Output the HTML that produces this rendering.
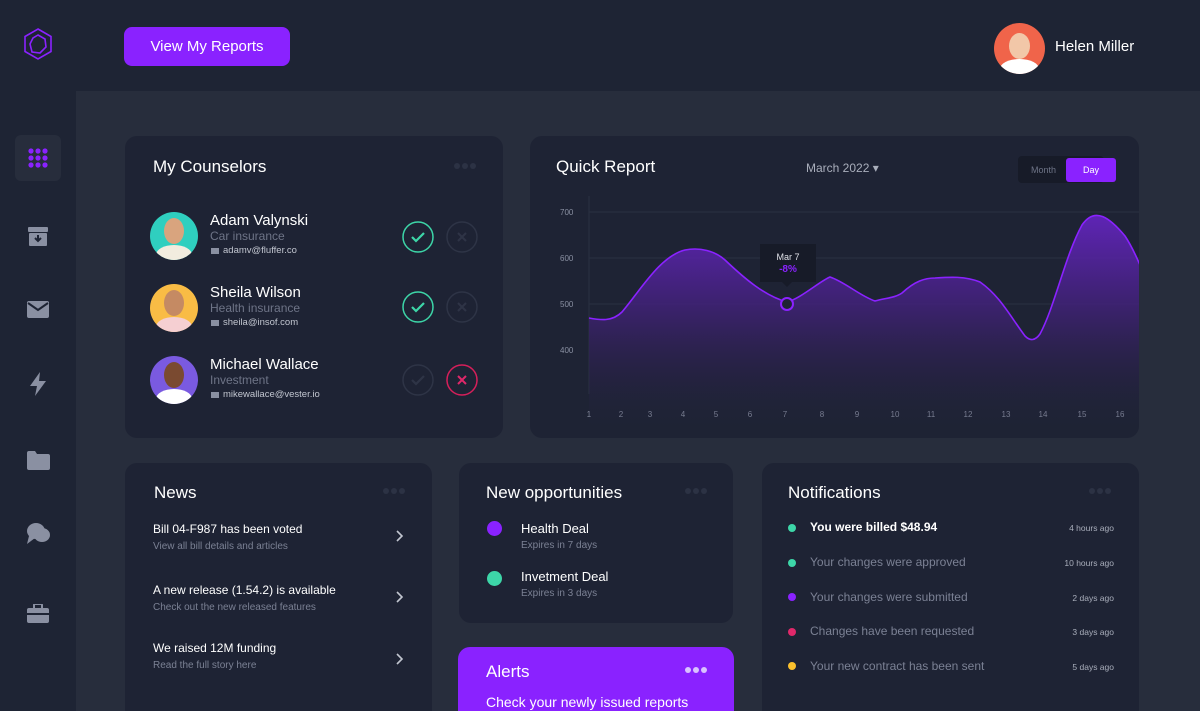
<!DOCTYPE html>
<html style="overflow:hidden;width:1200px;height:711px"><head><meta charset="utf-8"><style>
*{margin:0;padding:0;box-sizing:border-box}
body{width:1200px;height:711px;overflow:hidden;background:#1e2434;font-family:"Liberation Sans",sans-serif;position:relative;color:#fff}
.a{position:absolute}
.main{left:76px;top:91px;width:1124px;height:620px;background:#272d3c}
.card{position:absolute;background:#1e2334;border-radius:12px}
.t{font-size:17px;color:#fff}
.dots{position:absolute;display:flex;gap:2px}
.dots i{width:6px;height:6px;border-radius:50%;background:#2c3244;display:block}
.sm{font-size:11px;color:#7b8194}
</style></head><body>
<div class="a main"></div>
<svg class="a" style="left:22px;top:27px" width="32" height="34" viewBox="0 0 32 34"><polygon points="16,2 29,9.5 29,24.5 16,32 3,24.5 3,9.5" fill="none" stroke="#8a22ff" stroke-width="1.6"/><polygon points="16,8 23,12 24,20 18,26 10,25 8,17 11,11" fill="none" stroke="#8a22ff" stroke-width="1.6"/></svg>
<div class="a" style="left:124px;top:27px;width:166px;height:39px;background:#8a22ff;border-radius:8px;font-size:15px;line-height:40px;text-align:center">View My Reports</div>
<div class="a" style="left:994px;top:23px;width:51px;height:51px;border-radius:50%;background:#f0644a;overflow:hidden"><div class="a" style="left:15px;top:10px;width:21px;height:26px;border-radius:50%;background:#f2c7a8"></div><div class="a" style="left:6px;top:36px;width:39px;height:20px;border-radius:50%;background:#fff"></div></div>
<div class="a" style="left:1055px;top:38px;font-size:15px">Helen Miller</div>
<div class="a" style="left:15px;top:135px;width:46px;height:46px;border-radius:6px;background:#272d3c"></div>
<svg class="a" style="left:28px;top:148px" width="20" height="20"><g fill="#8a22ff"><circle cx="3" cy="3" r="2.6"/><circle cx="10" cy="3" r="2.6"/><circle cx="17" cy="3" r="2.6"/><circle cx="3" cy="10" r="2.6"/><circle cx="10" cy="10" r="2.6"/><circle cx="17" cy="10" r="2.6"/><circle cx="3" cy="17" r="2.6"/><circle cx="10" cy="17" r="2.6"/><circle cx="17" cy="17" r="2.6"/></g></svg>
<svg class="a" style="left:27px;top:226px" width="22" height="22" fill="#8a90a2"><rect x="1" y="1" width="20" height="5" rx="1"/><rect x="2" y="7" width="18" height="13" rx="1"/><path d="M11 9v6M8 12l3 3 3-3" stroke="#1e2434" stroke-width="2" fill="none"/></svg>
<svg class="a" style="left:27px;top:301px" width="22" height="18" fill="#8a90a2"><rect x="0" y="0" width="22" height="17" rx="2"/><path d="M1 2l10 7 10-7" stroke="#1e2434" stroke-width="2" fill="none"/></svg>
<svg class="a" style="left:29px;top:372px" width="18" height="24" fill="#8a90a2"><polygon points="11,0 1,14 8,14 6,24 17,9 10,9"/></svg>
<svg class="a" style="left:27px;top:451px" width="23" height="19" fill="#8a90a2"><path d="M0 2a2 2 0 012-2h6l2 3h11a2 2 0 012 2v12a2 2 0 01-2 2H2a2 2 0 01-2-2z"/></svg>
<svg class="a" style="left:27px;top:522px" width="23" height="22" fill="#8a90a2"><ellipse cx="9" cy="9" rx="9" ry="8"/><ellipse cx="15" cy="13" rx="8" ry="7"/><polygon points="2,14 0,22 8,16"/></svg>
<svg class="a" style="left:27px;top:604px" width="22" height="19" fill="#8a90a2"><rect x="0" y="4" width="22" height="15" rx="2"/><rect x="7" y="0" width="8" height="5" rx="1" fill="none" stroke="#8a90a2" stroke-width="2"/><rect x="0" y="9" width="22" height="2" fill="#1e2434"/></svg>

<div class="card" style="left:125px;top:136px;width:378px;height:302px">
<div class="a t" style="left:28px;top:21px">My Counselors</div>
<div class="dots" style="left:329px;top:27px"><i></i><i></i><i></i></div>
</div>
<div class="a" style="left:150px;top:212px;width:48px;height:48px;border-radius:50%;background:#2fcfbf;overflow:hidden"><div class="a" style="left:14px;top:6px;width:20px;height:26px;border-radius:50%;background:#d9a47e"></div><div class="a" style="left:6px;top:33px;width:36px;height:20px;border-radius:50%;background:#f2ecdf"></div></div>
<div class="a" style="left:150px;top:284px;width:48px;height:48px;border-radius:50%;background:#f9bc45;overflow:hidden"><div class="a" style="left:14px;top:6px;width:20px;height:26px;border-radius:50%;background:#c58a63"></div><div class="a" style="left:6px;top:33px;width:36px;height:20px;border-radius:50%;background:#f5cfd2"></div></div>
<div class="a" style="left:150px;top:356px;width:48px;height:48px;border-radius:50%;background:#7a5ae0;overflow:hidden"><div class="a" style="left:14px;top:6px;width:20px;height:26px;border-radius:50%;background:#7a4a30"></div><div class="a" style="left:6px;top:33px;width:36px;height:20px;border-radius:50%;background:#fff"></div></div>
<div class="a" style="left:210px;top:212px;font-size:15px">Adam Valynski</div>
<div class="a" style="left:210px;top:229px;font-size:12px;color:#6e7487">Car insurance</div>
<div class="a sm" style="left:223px;top:245px;font-size:9.5px;color:#c2c6d0">adamv@fluffer.co</div>
<div class="a" style="left:210px;top:284px;font-size:15px">Sheila Wilson</div>
<div class="a" style="left:210px;top:301px;font-size:12px;color:#6e7487">Health insurance</div>
<div class="a sm" style="left:223px;top:317px;font-size:9.5px;color:#c2c6d0">sheila@insof.com</div>
<div class="a" style="left:210px;top:356px;font-size:15px">Michael Wallace</div>
<div class="a" style="left:210px;top:373px;font-size:12px;color:#6e7487">Investment</div>
<div class="a sm" style="left:223px;top:389px;font-size:9.5px;color:#c2c6d0">mikewallace@vester.io</div>
<div class="a" style="left:211px;top:248px;width:8px;height:6px;background:#8a90a2"></div>
<div class="a" style="left:211px;top:320px;width:8px;height:6px;background:#8a90a2"></div>
<div class="a" style="left:211px;top:392px;width:8px;height:6px;background:#8a90a2"></div>
<svg class="a" style="left:400px;top:219px" width="80" height="180" fill="none" stroke-width="1.5">
<circle cx="18" cy="18" r="15" stroke="#3dd6a8"/><path d="M12 18l4 4 8-8" stroke="#3dd6a8" stroke-width="2.2"/>
<circle cx="62" cy="18" r="15" stroke="#2e3446"/><path d="M58 14l8 8M66 14l-8 8" stroke="#2e3446" stroke-width="2"/>
<circle cx="18" cy="88" r="15" stroke="#3dd6a8"/><path d="M12 88l4 4 8-8" stroke="#3dd6a8" stroke-width="2.2"/>
<circle cx="62" cy="88" r="15" stroke="#2e3446"/><path d="M58 84l8 8M66 84l-8 8" stroke="#2e3446" stroke-width="2"/>
<circle cx="18" cy="161" r="15" stroke="#2e3446"/><path d="M12 161l4 4 8-8" stroke="#2e3446" stroke-width="2.2"/>
<circle cx="62" cy="161" r="15" stroke="#d61f5a"/><path d="M58 157l8 8M66 157l-8 8" stroke="#e0286a" stroke-width="2"/>
</svg>

<div class="card" style="left:530px;top:136px;width:609px;height:302px;overflow:hidden">
<div class="a t" style="left:26px;top:21px">Quick Report</div>
<div class="a" style="left:276px;top:25px;font-size:12px;color:#a9aebb">March 2022 ▾</div>
<div class="a" style="left:488px;top:20px;width:86px;height:27px;border-radius:4px;background:#171b28"></div>
<div class="a" style="left:501px;top:29px;font-size:9px;color:#6e7487">Month</div>
<div class="a" style="left:536px;top:22px;width:50px;height:24px;border-radius:3px;background:#8a22ff;font-size:9px;text-align:center;line-height:24px">Day</div>
<svg class="a" style="left:0;top:0" width="609" height="302">
<defs><linearGradient id="g" x1="0" y1="0" x2="0" y2="1"><stop offset="0" stop-color="#6a24cc" stop-opacity=".85"/><stop offset="0.55" stop-color="#34215e" stop-opacity=".8"/><stop offset="1" stop-color="#1e2334" stop-opacity="0"/></linearGradient></defs>
<g stroke="#2a3042" stroke-width="1"><line x1="59" y1="76" x2="609" y2="76"/><line x1="59" y1="122" x2="609" y2="122"/><line x1="59" y1="168" x2="609" y2="168"/><line x1="59" y1="60" x2="59" y2="258"/></g>
<g font-size="8" fill="#8a90a2"><text x="30" y="79">700</text><text x="30" y="125">600</text><text x="30" y="171">500</text><text x="30" y="217">400</text></g>
<g font-size="8" fill="#8a90a2" text-anchor="middle"><text x="59" y="281">1</text><text x="91" y="281">2</text><text x="120" y="281">3</text><text x="153" y="281">4</text><text x="186" y="281">5</text><text x="220" y="281">6</text><text x="255" y="281">7</text><text x="292" y="281">8</text><text x="327" y="281">9</text><text x="365" y="281">10</text><text x="401" y="281">11</text><text x="438" y="281">12</text><text x="476" y="281">13</text><text x="513" y="281">14</text><text x="552" y="281">15</text><text x="590" y="281">16</text></g>
<path d="M59 182 C70 184,82 186,92 176 C110 155,130 120,155 114 C170 111,185 115,195 124 C215 143,235 160,257 166 C270 163,290 145,300 141 C315 146,330 160,345 165 C355 162,365 162,372 157 C385 145,395 142,405 142 C420 141,435 140,450 146 C470 160,480 180,495 200 C500 205,505 205,510 198 C525 170,535 120,552 89 C565 70,580 82,595 100 C605 115,609 128,615 140 L615 302 L59 302 Z" fill="url(#g)"/>
<path d="M59 182 C70 184,82 186,92 176 C110 155,130 120,155 114 C170 111,185 115,195 124 C215 143,235 160,257 166 C270 163,290 145,300 141 C315 146,330 160,345 165 C355 162,365 162,372 157 C385 145,395 142,405 142 C420 141,435 140,450 146 C470 160,480 180,495 200 C500 205,505 205,510 198 C525 170,535 120,552 89 C565 70,580 82,595 100 C605 115,609 128,615 140" fill="none" stroke="#8a22ff" stroke-width="1.6"/>
<circle cx="257" cy="168" r="6" fill="#1e2334" stroke="#8a22ff" stroke-width="2"/>
<rect x="230" y="108" width="56" height="38" fill="#171b28"/><polygon points="252,146 262,146 257,151" fill="#171b28"/>
<text x="258" y="124" font-size="9" fill="#e0e2e8" text-anchor="middle">Mar 7</text>
<text x="258" y="136" font-size="10" font-weight="bold" fill="#8a22ff" text-anchor="middle">-8%</text>
</svg>
</div>

<div class="card" style="left:125px;top:463px;width:307px;height:260px">
<div class="a t" style="left:29px;top:20px">News</div>
<div class="dots" style="left:258px;top:25px"><i></i><i></i><i></i></div>
<div class="a" style="left:28px;top:59px;font-size:12px">Bill 04-F987 has been voted</div>
<div class="a sm" style="left:28px;top:78px;font-size:10px">View all bill details and articles</div>
<div class="a" style="left:28px;top:120px;font-size:12px">A new release (1.54.2) is available</div>
<div class="a sm" style="left:28px;top:139px;font-size:10px">Check out the new released features</div>
<div class="a" style="left:28px;top:178px;font-size:12px">We raised 12M funding</div>
<div class="a sm" style="left:28px;top:197px;font-size:10px">Read the full story here</div>
<svg class="a" style="left:270px;top:66px" width="10" height="140" fill="none" stroke="#c2c6d0" stroke-width="1.6"><path d="M2 2l5 5-5 5M2 63l5 5-5 5M2 125l5 5-5 5"/></svg>
</div>

<div class="card" style="left:459px;top:463px;width:274px;height:160px">
<div class="a t" style="left:27px;top:20px">New opportunities</div>
<div class="dots" style="left:226px;top:25px"><i></i><i></i><i></i></div>
<div class="a" style="left:28px;top:58px;width:15px;height:15px;border-radius:50%;background:#8a22ff"></div>
<div class="a" style="left:28px;top:108px;width:15px;height:15px;border-radius:50%;background:#3dd6a8"></div>
<div class="a" style="left:62px;top:58px;font-size:13px">Health Deal</div>
<div class="a sm" style="left:62px;top:77px;font-size:10px">Expires in 7 days</div>
<div class="a" style="left:62px;top:106px;font-size:13px">Invetment Deal</div>
<div class="a sm" style="left:62px;top:125px;font-size:10px">Expires in 3 days</div>
</div>

<div class="card" style="left:458px;top:647px;width:276px;height:80px;background:#8a22ff">
<div class="a t" style="left:28px;top:15px">Alerts</div>
<div class="dots" style="left:227px;top:20px"><i style="background:#d9c2ff"></i><i style="background:#d9c2ff"></i><i style="background:#d9c2ff"></i></div>
<div class="a" style="left:28px;top:47px;font-size:14px">Check your newly issued reports</div>
</div>

<div class="card" style="left:762px;top:463px;width:377px;height:260px">
<div class="a t" style="left:26px;top:20px">Notifications</div>
<div class="dots" style="left:327px;top:25px"><i></i><i></i><i></i></div>
<div class="a" style="left:26px;top:61px;width:8px;height:8px;border-radius:50%;background:#3dd6a8"></div>
<div class="a" style="left:26px;top:96px;width:8px;height:8px;border-radius:50%;background:#3dd6a8"></div>
<div class="a" style="left:26px;top:130px;width:8px;height:8px;border-radius:50%;background:#8a22ff"></div>
<div class="a" style="left:26px;top:165px;width:8px;height:8px;border-radius:50%;background:#e0286a"></div>
<div class="a" style="left:26px;top:199px;width:8px;height:8px;border-radius:50%;background:#fbc02d"></div>
<div class="a" style="left:48px;top:57px;font-size:12px;font-weight:bold">You were billed $48.94</div>
<div class="a" style="left:48px;top:92px;font-size:12px;color:#7b8194">Your changes were approved</div>
<div class="a" style="left:48px;top:127px;font-size:12px;color:#7b8194">Your changes were submitted</div>
<div class="a" style="left:48px;top:161px;font-size:12px;color:#7b8194">Changes have been requested</div>
<div class="a" style="left:48px;top:196px;font-size:12px;color:#7b8194">Your new contract has been sent</div>
<div class="a" style="right:25px;top:60px;font-size:8.5px;color:#a9aebb">4 hours ago</div>
<div class="a" style="right:25px;top:95px;font-size:8.5px;color:#a9aebb">10 hours ago</div>
<div class="a" style="right:25px;top:130px;font-size:8.5px;color:#a9aebb">2 days ago</div>
<div class="a" style="right:25px;top:164px;font-size:8.5px;color:#a9aebb">3 days ago</div>
<div class="a" style="right:25px;top:199px;font-size:8.5px;color:#a9aebb">5 days ago</div>
</div>
</body></html>
